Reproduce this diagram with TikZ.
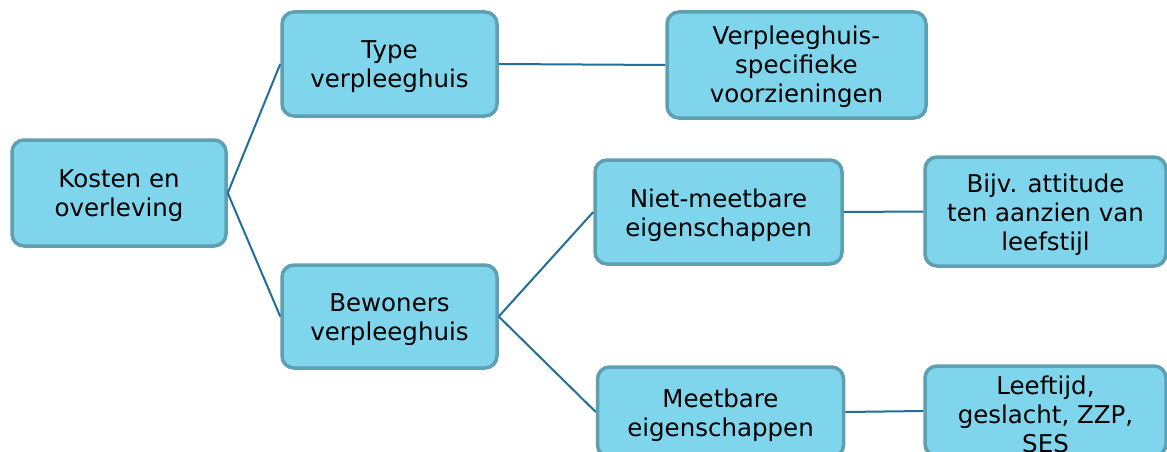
\documentclass[tikz,border=0pt]{standalone}
\usepackage{fontspec}
\setmainfont{DejaVu Sans}
\definecolor{boxfill}{HTML}{7FD6EC}
\definecolor{boxline}{HTML}{5E9FB2}
\definecolor{connline}{HTML}{1F6F98}
\begin{document}
\begin{tikzpicture}[x=1pt,y=-1pt,
  box/.style={draw=boxline, fill=boxfill, line width=3.5pt, rounded corners=12pt, inner sep=0pt},
  lbl/.style={inner sep=0pt, align=center, font=\fontsize{24.5}{29}\selectfont},
  conn/.style={draw=connline, line width=2pt}]
\useasboundingbox (0,0) rectangle (1167,452);
\clip (0,0) rectangle (1167,452);
\fill[white] (0,0) rectangle (1167,452);
\node[box, minimum width=214pt, minimum height=106pt] (k) at (119,193) {};
\node[box, minimum width=215pt, minimum height=104pt] (t) at (389.5,64) {};
\node[box, minimum width=215pt, minimum height=103pt] (b) at (389.5,316.5) {};
\node[box, minimum width=259pt, minimum height=106pt] (v) at (796.5,65) {};
\node[box, minimum width=247pt, minimum height=104pt] (n) at (718.5,212) {};
\node[box, minimum width=241pt, minimum height=109pt] (j) at (1045.5,211.5) {};
\node[box, minimum width=246pt, minimum height=90pt] (m) at (720.5,412) {};
\node[box, minimum width=241pt, minimum height=90pt] (l) at (1045.5,411) {};
\node[lbl] (kt) at ([yshift=-3pt]k.center) {Kosten en\\overleving};
\node[lbl] (tt) at ([yshift=-3pt]t.center) {Type\\verpleeghuis};
\node[lbl] (bt) at ([yshift=-3pt]b.center) {Bewoners\\verpleeghuis};
\node[lbl] (vt) at ([yshift=-2pt]v.center) {Verpleeghuis-\\specifieke\\voorzieningen};
\node[lbl] (nt) at ([yshift=-3pt]n.center) {Niet-meetbare\\eigenschappen};
\node[lbl] (jt) at ([yshift=-3pt]j.center) {Bijv. attitude\\ten aanzien van\\leefstijl};
\node[lbl] (mt) at ([yshift=-3pt]m.center) {Meetbare\\eigenschappen};
\node[lbl] (lt) at ([yshift=-3pt]l.center) {Leeftijd,\\geslacht, ZZP,\\SES};
\draw[conn] (k.east) -- (t.west);
\draw[conn] (k.east) -- (b.west);
\draw[conn] (t.east) -- (v.west);
\draw[conn] (b.east) -- (n.west);
\draw[conn] (b.east) -- (m.west);
\draw[conn] (n.east) -- (j.west);
\draw[conn] (m.east) -- (l.west);
\end{tikzpicture}
\end{document}
